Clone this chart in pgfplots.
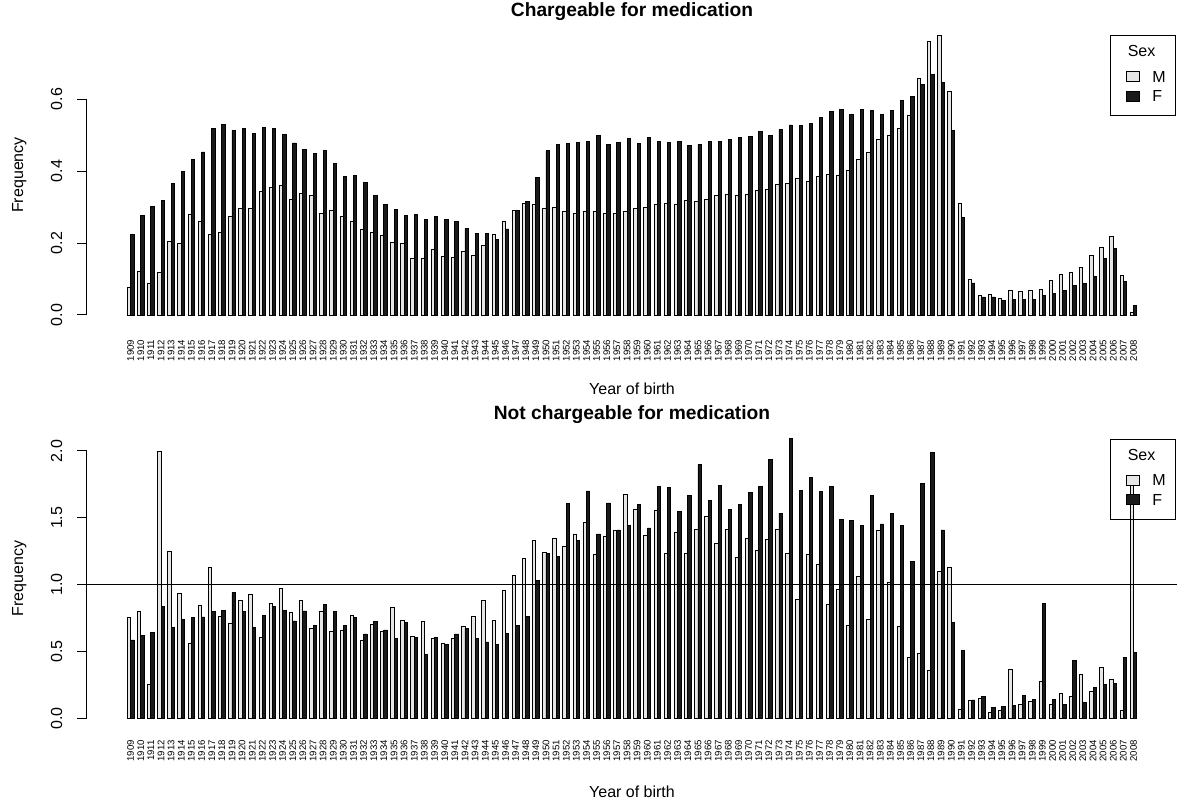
\documentclass[border=0pt]{standalone}
\usepackage{fontspec}
\setmainfont{Liberation Sans}
\usepackage{pgfplots}
\usepackage{pgfplotstable}
\pgfplotsset{compat=1.18}

\definecolor{mfill}{HTML}{E6E6E6}
\definecolor{ffill}{HTML}{1A1A1A}

% frequency by year of birth, M and F
\pgfplotstableread{
year M F
1909 0.077 0.224
1910 0.120 0.277
1911 0.088 0.302
1912 0.118 0.317
1913 0.204 0.365
1914 0.200 0.400
1915 0.278 0.431
1916 0.261 0.453
1917 0.223 0.518
1918 0.228 0.529
1919 0.274 0.513
1920 0.296 0.517
1921 0.296 0.505
1922 0.343 0.520
1923 0.353 0.519
1924 0.359 0.502
1925 0.322 0.478
1926 0.338 0.461
1927 0.331 0.448
1928 0.282 0.456
1929 0.290 0.421
1930 0.274 0.385
1931 0.261 0.388
1932 0.237 0.369
1933 0.230 0.331
1934 0.220 0.308
1935 0.202 0.292
1936 0.200 0.276
1937 0.157 0.280
1938 0.156 0.265
1939 0.181 0.275
1940 0.163 0.265
1941 0.161 0.260
1942 0.177 0.241
1943 0.165 0.227
1944 0.194 0.227
1945 0.223 0.209
1946 0.260 0.239
1947 0.291 0.291
1948 0.309 0.316
1949 0.307 0.383
1950 0.296 0.456
1951 0.299 0.475
1952 0.289 0.476
1953 0.282 0.479
1954 0.287 0.482
1955 0.287 0.500
1956 0.282 0.475
1957 0.282 0.480
1958 0.289 0.490
1959 0.296 0.477
1960 0.299 0.494
1961 0.306 0.482
1962 0.310 0.479
1963 0.308 0.483
1964 0.317 0.471
1965 0.315 0.474
1966 0.321 0.483
1967 0.331 0.483
1968 0.335 0.487
1969 0.331 0.493
1970 0.334 0.495
1971 0.347 0.509
1972 0.348 0.500
1973 0.364 0.515
1974 0.366 0.528
1975 0.379 0.527
1976 0.371 0.533
1977 0.385 0.549
1978 0.391 0.565
1979 0.388 0.570
1980 0.402 0.558
1981 0.433 0.571
1982 0.452 0.567
1983 0.489 0.557
1984 0.500 0.569
1985 0.519 0.597
1986 0.554 0.606
1987 0.656 0.640
1988 0.759 0.669
1989 0.778 0.645
1990 0.620 0.512
1991 0.311 0.270
1992 0.099 0.089
1993 0.053 0.050
1994 0.056 0.050
1995 0.046 0.041
1996 0.069 0.042
1997 0.066 0.044
1998 0.067 0.044
1999 0.071 0.055
2000 0.097 0.061
2001 0.114 0.067
2002 0.118 0.083
2003 0.131 0.087
2004 0.166 0.108
2005 0.189 0.156
2006 0.217 0.185
2007 0.109 0.094
2008 0.007 0.026
}\charge

\pgfplotstableread{
year M F
1909 0.753 0.586
1910 0.803 0.623
1911 0.254 0.641
1912 2.000 0.838
1913 1.252 0.683
1914 0.933 0.741
1915 0.561 0.751
1916 0.845 0.758
1917 1.127 0.800
1918 0.763 0.810
1919 0.711 0.940
1920 0.883 0.798
1921 0.930 0.676
1922 0.608 0.766
1923 0.863 0.838
1924 0.968 0.805
1925 0.791 0.728
1926 0.883 0.803
1927 0.671 0.698
1928 0.803 0.850
1929 0.648 0.798
1930 0.661 0.698
1931 0.766 0.753
1932 0.581 0.631
1933 0.701 0.721
1934 0.653 0.661
1935 0.830 0.596
1936 0.731 0.718
1937 0.616 0.603
1938 0.726 0.481
1939 0.599 0.608
1940 0.561 0.551
1941 0.599 0.631
1942 0.688 0.671
1943 0.761 0.594
1944 0.880 0.571
1945 0.731 0.549
1946 0.953 0.636
1947 1.072 0.698
1948 1.195 0.761
1949 1.332 1.032
1950 1.242 1.232
1951 1.342 1.212
1952 1.284 1.608
1953 1.379 1.329
1954 1.464 1.701
1955 1.227 1.379
1956 1.364 1.611
1957 1.409 1.409
1958 1.676 1.441
1959 1.566 1.603
1960 1.369 1.424
1961 1.556 1.733
1962 1.232 1.726
1963 1.389 1.551
1964 1.237 1.666
1965 1.416 1.898
1966 1.511 1.633
1967 1.309 1.741
1968 1.414 1.564
1969 1.204 1.601
1970 1.347 1.691
1971 1.259 1.738
1972 1.337 1.938
1973 1.411 1.536
1974 1.234 2.092
1975 0.888 1.706
1976 1.227 1.805
1977 1.152 1.698
1978 0.853 1.736
1979 0.965 1.489
1980 0.698 1.479
1981 1.060 1.446
1982 0.741 1.668
1983 1.404 1.454
1984 1.015 1.531
1985 0.686 1.444
1986 0.454 1.170
1987 0.486 1.756
1988 0.359 1.990
1989 1.102 1.409
1990 1.130 0.716
1991 0.067 0.504
1992 0.137 0.137
1993 0.150 0.160
1994 0.045 0.082
1995 0.055 0.090
1996 0.362 0.097
1997 0.102 0.172
1998 0.127 0.140
1999 0.274 0.860
2000 0.102 0.140
2001 0.185 0.100
2002 0.165 0.434
2003 0.327 0.115
2004 0.200 0.234
2005 0.379 0.252
2006 0.292 0.259
2007 0.055 0.454
2008 1.760 0.494
}\nocharge

\newcommand{\basefont}{\fontsize{16bp}{19.2bp}\selectfont}
\newcommand{\yearfont}{\fontsize{9.6bp}{10bp}\selectfont}

\pgfplotsset{
  rkey/.style={legend image code/.code={%
      \path (0bp,0bp);
      \draw[##1, line width=1bp] (5.1bp,-5bp) rectangle (17.8bp,5bp);}},
  mbar/.style={ybar, bar width=3.376bp, bar shift=-1.688bp,
    fill=mfill, draw=black, line width=0.9bp, rkey},
  fbar/.style={ybar, bar width=3.376bp, bar shift=1.688bp,
    fill=ffill, draw=black, line width=0.9bp, rkey},
  rplot/.style={
    scale only axis, width=1090.2bp,
    xmin=1904.68, xmax=2012.3, ymin=0,
    clip=false,
    axis line style={draw=none},
    tick pos=left, tick align=outside, major tick length=9.6bp,
    xtick=data,
    xtick style={draw=none},
    ytick style={black, line width=1bp},
    /pgf/number format/assume math mode=true,
    /pgf/number format/1000 sep={},
    yticklabel style={xshift=-15.3bp, rotate=90, anchor=base, inner sep=0bp,
      font=\basefont},
    xlabel={Year of birth}, ylabel={Frequency},
    xlabel style={at={(axis description cs:0.5,0)}, anchor=base,
      yshift=-79.3bp, font=\basefont},
    ylabel style={at={(axis description cs:-0.05843,0.5)}, anchor=base,
      font=\basefont},
    title style={at={(axis description cs:0.5,1)}, anchor=base,
      yshift=13bp, font=\bfseries\fontsize{19.2bp}{23bp}\selectfont},
    legend cell align=left,
    legend style={at={(1,1)}, anchor=north east, xshift=-1bp,
      draw=black, line width=1bp,
      inner xsep=9.9bp, inner ysep=9.5bp, row sep=0bp,
      font=\basefont, nodes={inner sep=0bp, text depth=},
      /tikz/every odd column/.append style={column sep=12.8bp}},
  }
}

\begin{document}
\begin{tikzpicture}
\useasboundingbox (0,0) rectangle (1177bp,803bp);

\begin{axis}[rplot,
  at={(86.9bp,488bp)}, anchor=south west, height=280bp,
  ymax=0.778,
  ytick={0,0.2,0.4,0.6}, yticklabels={0.0,0.2,0.4,0.6},
  xticklabel style={yshift=-14.9bp, rotate=90, anchor=east, inner sep=0bp,
    font=\yearfont},
  title={Chargeable for medication},
  legend style={fill=white}]
\addlegendimage{empty legend}
\addlegendentry{\hspace*{-24.6bp}Sex\rule[-9.7bp]{0pt}{21.65bp}}
\addplot[mbar] table[x=year, y=M] {\charge};
\addlegendentry{M\rule[-4.1bp]{0pt}{19.7bp}}
\addplot[fbar] table[x=year, y=F] {\charge};
\addlegendentry{F\rule[-4.1bp]{0pt}{19.7bp}}
\addplot[black, line width=1bp, forget plot] coordinates {(1904.68,0) (1904.68,0.6)};
\end{axis}

\begin{axis}[rplot,
  at={(86.9bp,84.7bp)}, anchor=south west, height=279.6bp,
  ymax=2.092,
  ytick={0,0.5,1,1.5,2}, yticklabels={0.0,0.5,1.0,1.5,2.0},
  xticklabel style={yshift=-12.1bp, rotate=90, anchor=east, inner sep=0bp,
    font=\yearfont},
  title={Not chargeable for medication},
  legend style={fill=none}]
\addlegendimage{empty legend}
\addlegendentry{\hspace*{-24.6bp}Sex\rule[-9.7bp]{0pt}{21.65bp}}
\addplot[mbar] table[x=year, y=M] {\nocharge};
\addlegendentry{M\rule[-4.1bp]{0pt}{19.7bp}}
\addplot[fbar] table[x=year, y=F] {\nocharge};
\addlegendentry{F\rule[-4.1bp]{0pt}{19.7bp}}
\addplot[black, line width=1bp, forget plot] coordinates {(1904.68,0) (1904.68,2)};
\addplot[black, line width=1bp, forget plot] coordinates {(1904.68,1) (2012.3,1)};
\end{axis}
\end{tikzpicture}
\end{document}
